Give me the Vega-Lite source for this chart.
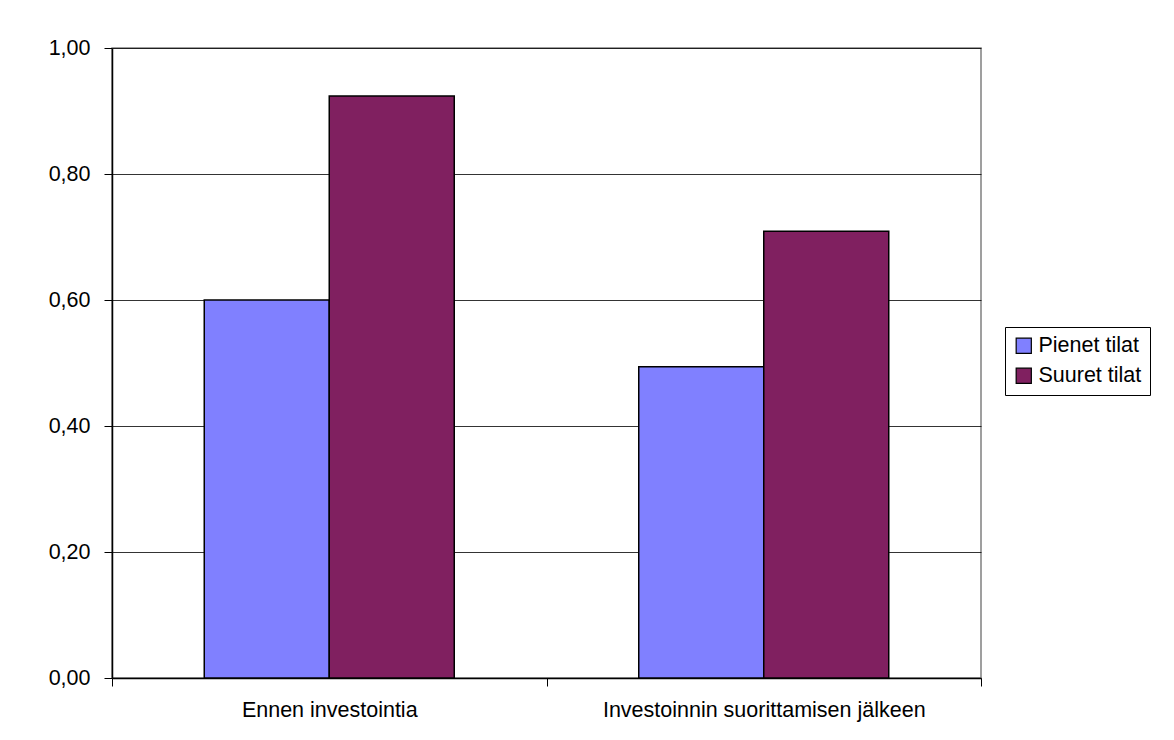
{
  "$schema": "https://vega.github.io/schema/vega-lite/v6.json",
  "width": 869,
  "height": 630,
  "autosize": {"type": "none"},
  "padding": {"left": 112, "top": 48, "right": 193, "bottom": 62},
  "background": "white",
  "config": {
    "font": "Liberation Sans",
    "view": {"stroke": "#808080", "strokeWidth": 1.5},
    "axis": {"labelFont": "Liberation Sans", "labelFontSize": 21.5, "labelColor": "black", "labelLimit": 0, "domainColor": "black", "tickColor": "black", "gridColor": "black", "gridWidth": 0.8, "gridOpacity": 1}
  },
  "data": {
    "values": [
      {"vaihe": "Ennen investointia", "ryhma": "Pienet tilat", "arvo": 0.60},
      {"vaihe": "Ennen investointia", "ryhma": "Suuret tilat", "arvo": 0.924},
      {"vaihe": "Investoinnin suorittamisen jälkeen", "ryhma": "Pienet tilat", "arvo": 0.494},
      {"vaihe": "Investoinnin suorittamisen jälkeen", "ryhma": "Suuret tilat", "arvo": 0.709}
    ]
  },
  "mark": {"type": "bar", "stroke": "black", "strokeWidth": 1.5},
  "encoding": {
    "x": {
      "field": "vaihe",
      "type": "nominal",
      "sort": null,
      "title": null,
      "scale": {"paddingInner": 0, "paddingOuter": 0},
      "axis": {"labelAngle": 0, "tickBand": "extent", "tickSize": 8, "labelPadding": 13, "domainWidth": 1.5, "grid": false}
    },
    "xOffset": {"field": "ryhma", "type": "nominal", "sort": ["Pienet tilat", "Suuret tilat"], "scale": {"paddingInner": 0, "paddingOuter": 0.738}},
    "y": {
      "field": "arvo",
      "type": "quantitative",
      "title": null,
      "scale": {"domain": [0, 1], "nice": false},
      "axis": {"values": [0, 0.2, 0.4, 0.6, 0.8, 1.0], "format": ".2f", "labelExpr": "replace(datum.label, '.', ',')", "tickSize": 8, "labelPadding": 14, "domainWidth": 1.5, "grid": true}
    },
    "color": {
      "field": "ryhma",
      "type": "nominal",
      "scale": {"domain": ["Pienet tilat", "Suuret tilat"], "range": ["#8080FF", "#802060"]},
      "legend": {
        "title": null,
        "orient": "none",
        "legendX": 893,
        "legendY": 279,
        "symbolType": "square",
        "symbolSize": 230,
        "symbolStrokeColor": "black",
        "symbolStrokeWidth": 1.2,
        "labelFontSize": 21.5,
        "labelColor": "black",
        "labelFont": "Liberation Sans",
        "labelLimit": 0,
        "rowPadding": 7,
        "padding": 8,
        "strokeColor": "black",
        "fillColor": "white"
      }
    }
  }
}
